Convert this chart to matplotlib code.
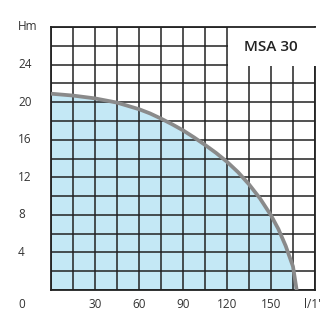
import matplotlib
matplotlib.use('Agg')
import matplotlib.pyplot as plt
from matplotlib.patches import Rectangle
from matplotlib.transforms import blended_transform_factory

plt.rcParams['font.family'] = ['Open Sans', 'DejaVu Sans']

# pump curve MSA 30 (flow l/min, head m)
flow = [0, 15, 30, 45, 60, 67.5, 75, 82.5, 90, 97.5, 105, 112.5, 120, 127.5,
        135, 142.5, 150, 155, 160, 165, 167.5]
head = [20.9, 20.7, 20.4, 19.95, 19.25, 18.8, 18.25, 17.65, 17.0, 16.25, 15.45, 14.6,
        13.65, 12.55, 11.25, 9.75, 7.95, 6.5, 4.7, 2.5, 0.0]
x_labels = [30, 60, 90, 120, 150]
y_labels = [4, 8, 12, 16, 20, 24]

fig = plt.figure(figsize=(3.3, 3.25), dpi=100)
ax = fig.add_axes([51 / 330, 1 - 290 / 325, 264 / 330, 263 / 325])
ax.set_xlim(0, 180)
ax.set_ylim(0, 28)

ax.set_xticks(range(0, 181, 15))
ax.set_yticks(range(0, 29, 2))
ax.tick_params(length=0, labelbottom=False, labelleft=False)
ax.set_axisbelow(False)
ax.grid(True, color='#222222', linewidth=1.1)
for s in ax.spines.values():
    s.set_color('#222222')
    s.set_linewidth(1.3)

ax.fill_between(flow, head, 0, color='#c4e8f5', zorder=1, linewidth=0)
ax.plot(flow, head, color='#8a8a8a', linewidth=2.7, zorder=4,
        solid_capstyle='butt', solid_joinstyle='round')

# white label box in the top right corner
ax.add_patch(Rectangle((120.6, 23.85), 62, 4.1, facecolor='white', edgecolor='none',
                       zorder=3, clip_on=False))
ax.spines['top'].set_zorder(5)
ax.text(150, 25.9, 'MSA 30', ha='center', va='center', fontsize=11,
        fontweight='semibold', color='#222222', zorder=6)

tc = '#333333'
left = blended_transform_factory(fig.transFigure, ax.transData)
for v in y_labels:
    ax.text(18 / 330, v, str(v), transform=left, ha='left', va='center', fontsize=8.5, color=tc)
ax.text(18 / 330, 1 - 26 / 325, 'Hm', transform=fig.transFigure, ha='left', va='center',
        fontsize=8.5, color=tc)

bottom = blended_transform_factory(ax.transData, fig.transFigure)
for v in x_labels:
    ax.text(v, 1 - 305 / 325, str(v), transform=bottom, ha='center', va='center',
            fontsize=8.5, color=tc)
ax.text(178, 1 - 305 / 325, "l/1'", transform=bottom, ha='center', va='center',
        fontsize=8.5, color=tc)
ax.text(18 / 330, 1 - 304 / 325, '0', transform=fig.transFigure, ha='left', va='center',
        fontsize=8.5, color=tc)

fig.savefig('out.png', dpi=100)
